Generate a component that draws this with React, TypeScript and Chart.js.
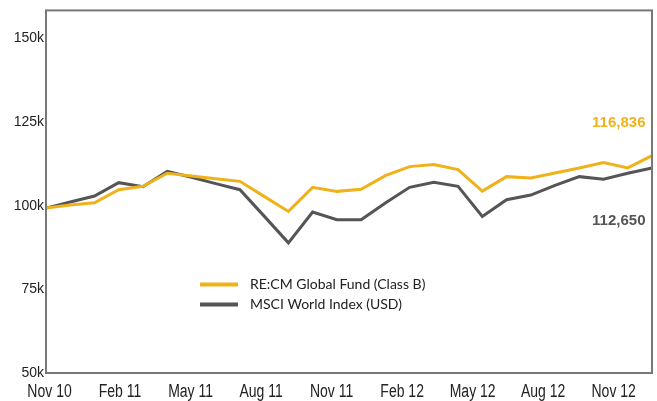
import React, { useEffect, useRef } from "react";
import { Chart, registerables } from "chart.js";

Chart.register(...registerables);

const months = [
  "Nov 10", "Dec 10", "Jan 11", "Feb 11", "Mar 11", "Apr 11", "May 11", "Jun 11", "Jul 11",
  "Aug 11", "Sep 11", "Oct 11", "Nov 11", "Dec 11", "Jan 12", "Feb 12", "Mar 12", "Apr 12",
  "May 12", "Jun 12", "Jul 12", "Aug 12", "Sep 12", "Oct 12", "Nov 12", "Dec 12",
];
const quarterLabels = ["Nov 10", "Feb 11", "May 11", "Aug 11", "Nov 11", "Feb 12", "May 12", "Aug 12", "Nov 12"];
const quarterIndex = [0, 3, 6, 9, 12, 15, 18, 21, 24];

const fundValues = [
  99300, 100200, 100900, 104800, 105800, 109700, 108900, 108100, 107300, 102800, 98300, 105500, 104300,
  104900, 109000, 111700, 112300, 110800, 104400, 108700, 108300, 109800, 111300, 112900, 111300, 115000,
];
const indexValues = [
  99300, 101100, 102900, 106900, 105700, 110300, 108500, 106600, 104800, 96900, 88900, 98100, 95800,
  95800, 100800, 105500, 107000, 105800, 96800, 101800, 103200, 106100, 108700, 107900, 109700, 111300,
];
const seriesNames = ["RE:CM Global Fund (Class B)", "MSCI World Index (USD)"];
const endLabels = ["116,836", "112,650"];
const yTicks = [50000, 75000, 100000, 125000, 150000];

const GOLD = "#EFB21B";
const DARK = "#555557";
const FRAME = "#78787B";

const framePlugin = {
  id: "frame",
  afterDatasetsDraw(chart: any) {
    const { ctx, chartArea } = chart;
    const { left, top, right, bottom } = chartArea;
    ctx.save();
    ctx.strokeStyle = FRAME;
    ctx.lineWidth = 2;
    ctx.strokeRect(left, top, right - left, bottom - top);
    ctx.restore();
  },
};

// Quarter labels drawn at the axis positions, in a tall (vertically stretched) face like the original
const xLabelPlugin = {
  id: "xLabels",
  afterDraw(chart: any) {
    const { ctx, chartArea } = chart;
    const scale = chart.scales.xq;
    ctx.save();
    ctx.fillStyle = "#222";
    ctx.font = "14px 'Liberation Sans', Arial, sans-serif";
    ctx.textAlign = "center";
    ctx.textBaseline = "middle";
    quarterIndex.forEach((v, i) => {
      const x = scale.getPixelForValue(v);
      ctx.save();
      ctx.translate(x, chartArea.bottom + 19);
      ctx.scale(1, 1.27);
      ctx.fillText(quarterLabels[i], 0, 0);
      ctx.restore();
    });
    ctx.restore();
  },
};

const legendPlugin = {
  id: "innerLegend",
  afterDraw(chart: any) {
    const { ctx, chartArea } = chart;
    const x0 = chartArea.left + 154;
    const y0 = chartArea.top + 274;
    chart.data.datasets.forEach((ds: any, i: number) => {
      const y = y0 + i * 20;
      ctx.save();
      ctx.strokeStyle = ds.borderColor;
      ctx.lineWidth = 4;
      ctx.beginPath();
      ctx.moveTo(x0, y);
      ctx.lineTo(x0 + 38, y);
      ctx.stroke();
      ctx.fillStyle = "#222";
      ctx.font = "14px Lato, 'Liberation Sans', sans-serif";
      ctx.textBaseline = "middle";
      ctx.textAlign = "left";
      ctx.fillText(ds.label, x0 + 50, y);
      ctx.restore();
    });
  },
};

const endLabelPlugin = {
  id: "endLabels",
  afterDraw(chart: any) {
    const { ctx, chartArea } = chart;
    const colors = [GOLD, DARK];
    const offsets = [112.5, 210];
    ctx.save();
    ctx.font = "bold 15px 'Liberation Sans', Arial, sans-serif";
    ctx.textAlign = "right";
    ctx.textBaseline = "middle";
    endLabels.forEach((t, i) => {
      ctx.fillStyle = colors[i];
      ctx.fillText(t, chartArea.right - 6.5, chartArea.top + offsets[i]);
    });
    ctx.restore();
  },
};

export default function App() {
  const canvasRef = useRef<HTMLCanvasElement | null>(null);

  useEffect(() => {
    if (!canvasRef.current) return;
    const chart = new Chart(canvasRef.current, {
      type: "line",
      data: {
        labels: months,
        datasets: [
          {
            label: seriesNames[0],
            data: fundValues,
            borderColor: GOLD,
            backgroundColor: GOLD,
            borderWidth: 3,
            pointRadius: 0,
            tension: 0,
          },
          {
            label: seriesNames[1],
            data: indexValues,
            borderColor: DARK,
            backgroundColor: DARK,
            borderWidth: 3,
            pointRadius: 0,
            tension: 0,
          },
        ],
      },
      options: {
        animation: false,
        responsive: false,
        layout: { padding: { top: 10, right: 5, left: 0, bottom: 0 } },
        plugins: { legend: { display: false }, tooltip: { enabled: false } },
        scales: {
          x: { display: false },
          xq: {
            type: "linear",
            position: "bottom",
            min: -0.15,
            max: 25.63,
            grid: { display: false, drawTicks: false },
            border: { display: false },
            afterBuildTicks: (axis: any) => {
              axis.ticks = quarterIndex.map((v) => ({ value: v }));
            },
            afterFit: (scale: any) => {
              scale.height = 28;
            },
            ticks: { display: false },
          },
          y: {
            min: 50000,
            max: 158400,
            grid: { display: false, drawTicks: false },
            border: { display: false },
            afterBuildTicks: (axis: any) => {
              axis.ticks = yTicks.map((v) => ({ value: v }));
            },
            afterFit: (scale: any) => {
              scale.width = 46;
            },
            ticks: {
              padding: 2,
              color: "#222",
              font: { family: "'Liberation Sans', Arial, sans-serif", size: 14 },
              callback: (v: any) => Number(v) / 1000 + "k",
            },
          },
        },
      } as any,
      plugins: [framePlugin, xLabelPlugin, legendPlugin, endLabelPlugin],
    });
    return () => chart.destroy();
  }, []);

  return (
    <div style={{ position: "absolute", left: 0, top: 0, width: 657, height: 401 }}>
      <canvas ref={canvasRef} width={657} height={401} style={{ display: "block" }} />
    </div>
  );
}
